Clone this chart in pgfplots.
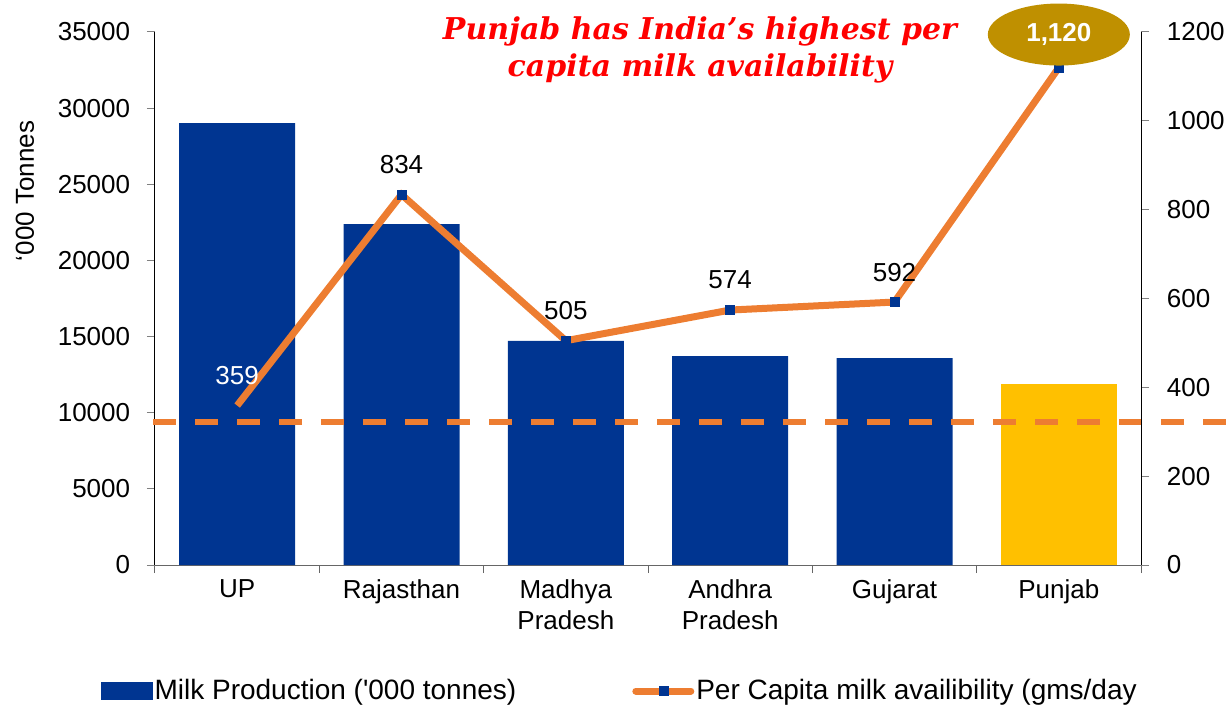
\documentclass[border=0pt]{standalone}
\usepackage{fontspec}
\setmainfont{Liberation Sans}
\newfontfamily\titlefont{DejaVu Serif}
\usepackage{pgfplots}
\pgfplotsset{compat=1.18}
\usetikzlibrary{shapes.geometric}
\definecolor{barblue}{RGB}{0,53,145}
\definecolor{bargold}{RGB}{255,192,0}
\definecolor{lineorange}{RGB}{237,125,49}
\definecolor{ellgold}{RGB}{191,144,0}
\definecolor{titlered}{RGB}{255,0,0}
\pgfplotsset{linelegend/.style={legend image code/.code={\draw[##1, mark indices={2}, line cap=round] plot coordinates {(0bp,0bp) (28bp,0bp) (55bp,0bp)};}}}
\begin{document}
\fontsize{26bp}{31bp}\selectfont
\begin{tikzpicture}
\begin{axis}[
  at={(0,0)}, anchor=south west,
  scale only axis, width=986bp, height=533bp,
  xmin=-0.5, xmax=5.5, ymin=0, ymax=35000,
  clip=false,
  axis x line*=bottom, axis y line*=left,
  x axis line style={gray!80!black, line width=1bp},
  y axis line style={black, line width=1bp},
  tick align=outside, major tick length=8bp,
  tick style={line width=1bp},
  xtick={-0.5,0.5,...,5.5}, xticklabels={},
  x tick style={gray!80!black},
  extra x ticks={0,1,2,3,4,5},
  extra x tick labels={UP,Rajasthan,{Madhya\\Pradesh},{Andhra\\Pradesh},Gujarat,Punjab},
  extra x tick style={tick style={draw=none}},
  xticklabel style={align=center, anchor=north, yshift=2bp},
  ytick={0,5000,...,35000},
  scaled y ticks=false,
  yticklabel style={xshift=-8bp},
  /pgf/number format/.cd, 1000 sep={}, assume math mode=true, /pgfplots/.cd,
  ybar, bar width=116bp,
]
\addplot[fill=barblue, draw=none, bar shift=0pt] coordinates {(0,29020) (1,22390) (2,14710) (3,13720) (4,13590)};
\addplot[fill=bargold, draw=none, bar shift=0pt] coordinates {(5,11880)};
\addplot[sharp plot, lineorange, line width=6bp, dash pattern=on 23bp off 19bp, forget plot] coordinates {(-0.512,9390) (6.02,9390)};
\end{axis}
\begin{axis}[
  at={(0,0)}, anchor=south west,
  scale only axis, width=986bp, height=533bp,
  xmin=-0.5, xmax=5.5, ymin=0, ymax=1200,
  clip=false,
  axis x line=none, axis y line*=right,
  y axis line style={black, line width=1bp},
  tick align=outside, major tick length=8bp,
  tick style={line width=1bp},
  ytick={0,200,...,1200},
  scaled y ticks=false,
  yticklabel style={xshift=9bp},
  /pgf/number format/.cd, 1000 sep={}, assume math mode=true, /pgfplots/.cd,
  legend columns=2,
  legend style={draw=none, fill=none, at={(rel axis cs:-0.0548,-0.2364)}, anchor=west,
    inner sep=0pt, nodes={inner sep=2bp}, font=\fontsize{28bp}{32bp}\selectfont},
  legend cell align=left,
  /tikz/every even column/.append style={column sep=114bp},
]
\addlegendimage{legend image code/.code={\fill[barblue] (0bp,-8.5bp) rectangle (51bp,8.5bp);}}
\addlegendentry{Milk Production (\textquotesingle 000 tonnes)}
\addplot[lineorange, line width=7bp, mark=square*, mark size=4.5bp,
  mark options={solid, fill=barblue, draw=barblue, line width=0bp},
  mark indices={2,3,4,5,6}, linelegend]
  coordinates {(0,359) (1,834) (2,505) (3,574) (4,592) (5,1120)};
\addlegendentry{Per Capita milk availibility (gms/day}
\addplot[draw=none, mark=none, forget plot, nodes near coords, point meta=explicit symbolic,
  nodes near coords style={anchor=center, yshift=30bp, text=black}]
  table[meta=l] {
x y l
1 834 834
2 505 505
3 574 574
4 592 592
};
\addplot[draw=none, mark=none, forget plot, nodes near coords, point meta=explicit symbolic,
  nodes near coords style={anchor=center, yshift=30bp, text=white}]
  table[meta=l] {
x y l
0 359 359
};
\addplot[draw=none, mark=none, forget plot, nodes near coords, point meta=explicit symbolic,
  nodes near coords style={ellipse, fill=ellgold, text=white, font=\bfseries, anchor=center,
    minimum width=142bp, minimum height=62bp, inner sep=0pt, yshift=33bp}]
  table[meta=l] {
x y l
5 1120 1,120
};
\end{axis}
\node[rotate=90] at (-130bp,374bp) {‘000 Tonnes};
\node[align=center, text=titlered, font=\titlefont\bfseries\itshape\fontsize{30bp}{37bp}\selectfont] at (545bp,515bp) {Punjab has India’s highest per\\capita milk availability};
\pgfresetboundingbox
\path[use as bounding box] (-155bp,-143bp) rectangle (1075bp,565bp);
\end{tikzpicture}
\end{document}
